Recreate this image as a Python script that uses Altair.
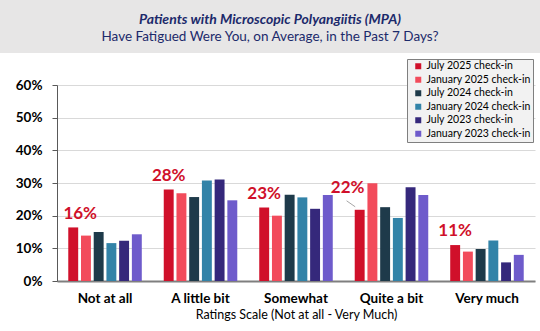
import altair as alt
import pandas as pd

categories = ["Not at all", "A little bit", "Somewhat", "Quite a bit", "Very much"]
series = ["July 2025 check-in", "January 2025 check-in", "July 2024 check-in",
          "January 2024 check-in", "July 2023 check-in", "January 2023 check-in"]
colors = ["#D0102A", "#F24B5B", "#1E3A4A", "#3283A8", "#35287B", "#6E5BCB"]

jul25 = [16.4, 28.0, 22.5, 21.8, 11.0]
jan25 = [13.9, 26.9, 20.0, 29.9, 9.0]
jul24 = [15.0, 25.7, 26.4, 22.6, 9.8]
jan24 = [11.6, 30.8, 25.6, 19.3, 12.4]
jul23 = [12.3, 31.1, 22.1, 28.7, 5.7]
jan23 = [14.3, 24.7, 26.3, 26.3, 8.0]
labels = ["16%", "28%", "23%", "22%", "11%"]

title1 = "Patients with Microscopic Polyangiitis (MPA)"
title2 = "Have Fatigued Were You, on Average, in the Past 7 Days?"
x_title = "Ratings Scale (Not at all - Very Much)"

rows = []
for s, vals in zip(series, [jul25, jan25, jul24, jan24, jul23, jan23]):
    for c, v in zip(categories, vals):
        rows.append({"category": c, "series": s, "value": v})
df = pd.DataFrame(rows)

lab = pd.DataFrame({"category": categories, "series": series[0], "value": jul25, "label": labels})

FONT = "Lato"

xenc = alt.X("category:N", sort=categories,
             scale=alt.Scale(paddingInner=0.23, paddingOuter=0.118),
             axis=alt.Axis(labelAngle=0, ticks=False, tickSize=0, domainColor="#7F7F7F",
                           domainWidth=2, labelFontWeight="bold", labelFontSize=13.5,
                           labelColor="#000000", labelPadding=10, title=x_title,
                           titleFontWeight="normal", titleFontSize=12.5, titleColor="#000000",
                           titlePadding=4, grid=False, labelFont=FONT, titleFont=FONT))
xoff = alt.XOffset("series:N", sort=series, scale=alt.Scale(domain=series, paddingInner=0.22))
yenc = alt.Y("value:Q", scale=alt.Scale(domain=[0, 60], nice=False),
             axis=alt.Axis(values=[0, 10, 20, 30, 40, 50, 60], labelExpr="datum.value + '%'",
                           labelFontWeight="bold", labelFontSize=13.5, labelColor="#000000",
                           labelFont=FONT, tickSize=5, tickColor="#595959",
                           domainColor="#595959", gridColor="#D9D9D9", labelPadding=10,
                           labelOverlap=False, title=None))

bars = alt.Chart(df).mark_bar().encode(
    x=xenc, xOffset=xoff, y=yenc,
    color=alt.Color("series:N", scale=alt.Scale(domain=series, range=colors),
                    legend=alt.Legend(title=None, orient="none", legendX=350, legendY=-26,
                                      fillColor="#F2F2F2", strokeColor="#7F7F7F",
                                      padding=2, symbolType="square", symbolSize=36,
                                      symbolStrokeWidth=0, symbolOffset=4,
                                      labelFontSize=10.5, labelFont=FONT, labelColor="#000000",
                                      rowPadding=2.5, labelOffset=3)),
)

txt_common = dict(color="#D0102A", fontWeight="bold", fontSize=17, font=FONT, baseline="alphabetic")
enc_lab = dict(x=xenc, xOffset=xoff, y=yenc, text="label:N")

lab_main = alt.Chart(lab).transform_filter(
    "datum.label != '16%' && datum.label != '22%'").mark_text(dy=-9, **txt_common).encode(**enc_lab)
lab_16 = alt.Chart(lab).transform_filter("datum.label == '16%'").mark_text(
    dy=-8, dx=7, **txt_common).encode(**enc_lab)
lab_22 = alt.Chart(lab).transform_filter("datum.label == '22%'").mark_text(
    dy=-17, dx=-12, **txt_common).encode(**enc_lab)
# leader line from the 22% label to its bar
leader = alt.Chart(lab).transform_filter("datum.label == '22%'").mark_point(
    shape="M -0.936 -0.643 L -0.321 -0.214", size=784, filled=False,
    stroke="#A6A6A6", strokeWidth=1, opacity=1).encode(x=xenc, xOffset=xoff, y=yenc)

band = alt.Chart(pd.DataFrame({"a": [0]})).mark_rect(color="#E7E6E6").encode(
    x=alt.value(-57), x2=alt.value(483), y=alt.value(-85), y2=alt.value(-32))

titles = pd.DataFrame({"t": [title1, title2], "line": [1, 2]})
t1 = alt.Chart(titles).transform_filter("datum.line == 1").mark_text(
    font=FONT, fontSize=14, fontWeight="bold", fontStyle="italic", color="#1C2A6B",
    baseline="alphabetic", align="center").encode(text="t:N", x=alt.value(213), y=alt.value(-61.5))
t2 = alt.Chart(titles).transform_filter("datum.line == 2").mark_text(
    font=FONT, fontSize=13.5, color="#1C2A6B",
    baseline="alphabetic", align="center").encode(text="t:N", x=alt.value(213), y=alt.value(-44))

chart = alt.layer(band, t1, t2, bars, leader, lab_main, lab_16, lab_22).properties(
    width=478, height=196,
    autosize=alt.AutoSizeParams(type="none"),
    padding={"left": 57, "top": 85, "right": 5, "bottom": 50},
    background="#FFFFFF",
).configure_view(stroke=None)

chart.save("out.html", embed_options={"renderer": "svg", "actions": False})
